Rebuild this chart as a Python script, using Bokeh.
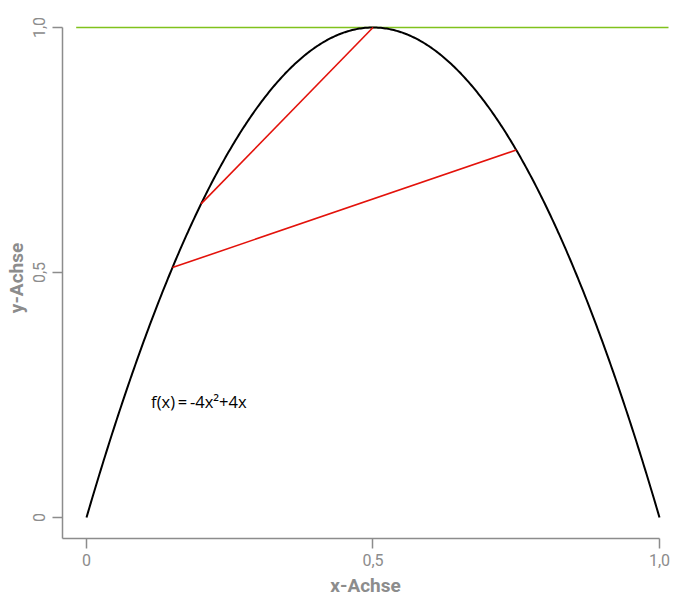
import numpy as np
from bokeh.plotting import figure
from bokeh.models import Range1d, FixedTicker
from bokeh.core.properties import value
from bokeh.embed import file_html
from bokeh.resources import INLINE

# --- data ---
coef_a, coef_b, coef_c = -4.0, 4.0, 0.0          # f(x) = -4x^2 + 4x
x_domain = [0.0, 1.0]
secant1_x = [0.2, 0.5]
secant1_y = [0.64, 1.0]
secant2_x = [0.15, 0.75]
secant2_y = [0.51, 0.75]
hline_x = [-0.018, 1.02]
hline_y = [1.0, 1.0]
x_ticks = [0, 0.5, 1]
x_tick_labels = ["0", "0,5", "1,0"]
y_ticks = [0, 0.5, 1]
y_tick_labels = ["0", "0,5", "1,0"]
x_axis_title = "x-Achse"
y_axis_title = "y-Achse"
formula_text = ["f(x)\u2009=\u2009-4x\u00b2+4x"]
formula_x = [0.196]
formula_y = [0.237]

xs = np.linspace(x_domain[0], x_domain[1], 400)
ys = coef_a * xs**2 + coef_b * xs + coef_c

GRAY = "#8c8c8c"
FONT = "Open Sans"
AXFONT = "Roboto"

p = figure(width=673, height=600, output_backend="svg", toolbar_location=None,
           x_range=Range1d(-0.04188, 1.01571), y_range=Range1d(-0.04286, 1.0204),
           min_border_left=62, min_border_right=5, min_border_top=17, min_border_bottom=62)
p.outline_line_color = None
p.xgrid.visible = False
p.ygrid.visible = False
p.background_fill_color = "white"

p.line(hline_x, hline_y, line_color="#80c21c", line_width=1.6)
p.line(xs, ys, line_color="black", line_width=2)
p.line(secant1_x, secant1_y, line_color="#e3120b", line_width=1.6)
p.line(secant2_x, secant2_y, line_color="#e3120b", line_width=1.6)
p.text(formula_x, formula_y, text=formula_text, text_font=value(FONT), text_font_size="16.5px",
       text_color="black", text_align="center", text_baseline="middle")

for ax, ticks, labels in ((p.xaxis[0], x_ticks, x_tick_labels), (p.yaxis[0], y_ticks, y_tick_labels)):
    ax.ticker = FixedTicker(ticks=ticks)
    ax.major_label_overrides = {t: l for t, l in zip(ticks, labels)}
    ax.axis_line_color = GRAY
    ax.axis_line_width = 1.5
    ax.major_tick_line_color = GRAY
    ax.major_tick_line_width = 1.5
    ax.major_tick_out = 10
    ax.major_tick_in = 0
    ax.minor_tick_line_color = None
    ax.major_label_text_color = GRAY
    ax.major_label_text_font = AXFONT
    ax.major_label_text_font_size = "16px"
    ax.axis_label_text_color = GRAY
    ax.axis_label_text_font = AXFONT
    ax.axis_label_text_font_style = "bold"
    ax.axis_label_text_font_size = "19px"

p.xaxis.bounds = (-0.04188, 1.0)
p.yaxis.bounds = (-0.04286, 1.0)
p.xaxis.axis_label = x_axis_title
p.yaxis.axis_label = y_axis_title
p.xaxis.major_label_standoff = 5
p.xaxis.axis_label_standoff = 5
p.yaxis.major_label_standoff = 7
p.yaxis.axis_label_standoff = 3
p.yaxis.major_label_orientation = "vertical"

open("out.html", "w").write(file_html(p, INLINE))
